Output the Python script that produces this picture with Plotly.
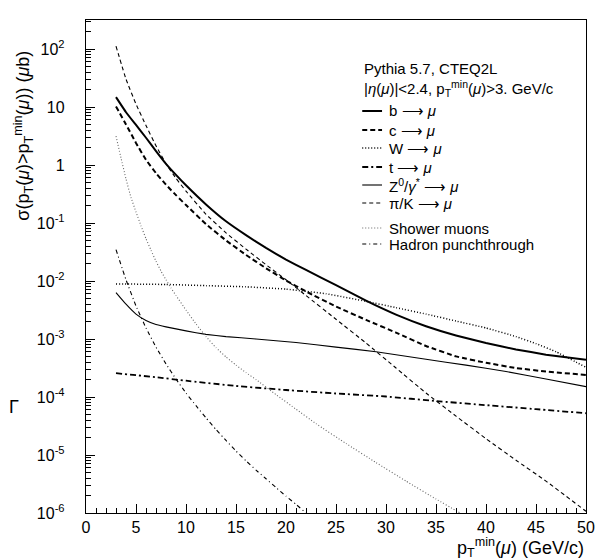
import plotly.graph_objects as go

# ---------------- data ----------------
b_x = [3, 4, 5, 6, 7, 8, 9, 10, 12, 14, 16, 18, 20, 22, 25, 28, 31, 34, 37, 40, 43, 46, 50]
b_y = [14.8, 8.13, 4.90, 2.95, 1.74, 1.05, 0.676, 0.447, 0.209, 0.107, 0.0617, 0.0372, 0.0234,
       0.0155, 8.51e-3, 4.57e-3, 2.63e-3, 1.66e-3, 1.15e-3, 8.51e-4, 6.61e-4, 5.37e-4, 4.37e-4]

c_x = [3, 4, 5, 6, 7, 8, 9, 10, 12, 14, 16, 18, 20, 22, 25, 28, 31, 34, 37, 40, 43, 46, 50]
c_y = [10.2, 5.01, 2.40, 1.23, 0.724, 0.457, 0.302, 0.204, 0.0955, 0.0501, 0.0282, 0.0166, 0.0102,
       6.61e-3, 3.63e-3, 2.14e-3, 1.29e-3, 7.59e-4, 5.01e-4, 3.89e-4, 3.16e-4, 2.75e-4, 2.40e-4]

w_x = [3, 8, 12, 16, 20, 24, 28, 31, 34, 37, 40, 43, 45, 47, 50]
w_y = [8.91e-3, 8.71e-3, 8.32e-3, 7.94e-3, 7.24e-3, 6.03e-3, 4.47e-3, 3.47e-3, 2.69e-3, 2.04e-3,
       1.55e-3, 1.10e-3, 8.32e-4, 6.03e-4, 3.24e-4]

t_x = [3, 7, 10, 15, 20, 25, 30, 35, 40, 45, 50]
t_y = [2.57e-4, 2.19e-4, 1.91e-4, 1.55e-4, 1.32e-4, 1.15e-4, 1.02e-4, 8.51e-5, 7.24e-5, 6.17e-5, 5.25e-5]

z_x = [3, 4, 5, 6, 7, 8, 10, 12, 14, 17, 21, 25, 29, 34, 38, 42, 46, 50]
z_y = [6.31e-3, 3.98e-3, 2.69e-3, 2.09e-3, 1.78e-3, 1.62e-3, 1.38e-3, 1.20e-3, 1.10e-3, 1.00e-3,
       8.71e-4, 7.24e-4, 6.03e-4, 4.47e-4, 3.55e-4, 2.75e-4, 2.04e-4, 1.51e-4]

pik_x = [3, 4, 5, 6, 7, 8, 9, 10, 12, 14, 16, 18, 20, 22, 25, 28, 31, 34, 37, 40, 43, 46, 50]
pik_y = [112, 30.2, 11.2, 4.79, 2.14, 1.05, 0.589, 0.355, 0.141, 0.0676, 0.0355, 0.0191, 0.0105,
         5.62e-3, 2.19e-3, 8.51e-4, 3.16e-4, 1.17e-4, 4.68e-5, 1.91e-5, 8.13e-6, 3.55e-6, 1.07e-6]

sh_x = [3, 3.5, 4, 4.5, 5, 5.5, 6, 6.5, 7, 7.5, 8, 8.5, 9, 10, 11, 12, 13, 14, 15, 16, 17, 19,
        21, 23, 26, 29, 32, 35, 37, 38]
sh_y = [3.16, 1.32, 0.575, 0.275, 0.155, 0.0891, 0.0537, 0.0339, 0.0219, 0.0148, 0.0105, 7.59e-3,
        5.62e-3, 3.16e-3, 1.82e-3, 1.10e-3, 7.08e-4, 4.90e-4, 3.55e-4, 2.63e-4, 2.00e-4, 1.10e-4,
        6.17e-5, 3.47e-5, 1.58e-5, 7.41e-6, 3.55e-6, 1.74e-6, 1.10e-6, 8.71e-7]

hp_x = [3, 4, 5, 6, 7, 8, 9, 10, 11, 12, 13, 14, 15, 16, 17, 18, 19, 20, 21, 22, 23]
hp_y = [3.47e-2, 1.05e-2, 3.72e-3, 1.55e-3, 7.24e-4, 3.72e-4, 2.04e-4, 1.17e-4, 7.08e-5, 4.37e-5,
        2.75e-5, 1.78e-5, 1.17e-5, 7.94e-6, 5.50e-6, 3.89e-6, 2.75e-6, 1.95e-6, 1.41e-6, 1.00e-6,
        7.24e-7]

x_ticks = [0, 5, 10, 15, 20, 25, 30, 35, 40, 45, 50]
y_ticks = [1e-6, 1e-5, 1e-4, 1e-3, 1e-2, 1e-1, 1, 10, 100]
y_tick_text = ["10<sup>-6</sup>", "10<sup>-5</sup>", "10<sup>-4</sup>", "10<sup>-3</sup>",
               "10<sup>-2</sup>", "10<sup>-1</sup>", "1", "10", "10<sup>2</sup>"]

legend_labels = ["b ⟶ <i>μ</i>", "c ⟶ <i>μ</i>", "W ⟶ <i>μ</i>", "t ⟶ <i>μ</i>",
                 "Z<sup>0</sup>/<i>γ</i><sup>*</sup> ⟶ <i>μ</i>", "π/K ⟶ <i>μ</i>",
                 "Shower muons", "Hadron punchthrough"]

# ---------------- styles ----------------
FONT = "Liberation Sans"
W, H = 607, 559
L, R, T, B = 86, 16, 20, 46
PW, PH = W - L - R, H - T - B

styles = [
    dict(color="black", width=2.0, dash="solid"),
    dict(color="black", width=2.0, dash="5px,3px"),
    dict(color="black", width=1.5, dash="1px,2px"),
    dict(color="black", width=1.8, dash="6px,3px,2px,3px"),
    dict(color="black", width=1.1, dash="solid"),
    dict(color="black", width=1.1, dash="4px,3px"),
    dict(color="#666666", width=1.1, dash="1px,2px"),
    dict(color="black", width=1.1, dash="4px,3px,1px,3px"),
]
series = [(b_x, b_y), (c_x, c_y), (w_x, w_y), (t_x, t_y), (z_x, z_y),
          (pik_x, pik_y), (sh_x, sh_y), (hp_x, hp_y)]

fig = go.Figure()
for (xs, ys), st, lab in zip(series, styles, legend_labels):
    fig.add_trace(go.Scatter(x=xs, y=ys, mode="lines", name=lab, showlegend=False,
                             hoverinfo="skip",
                             line=dict(color=st["color"], width=st["width"], dash=st["dash"],
                                       shape="spline", smoothing=0.3)))


def px(xp):
    return (xp - L) / PW


def py(yp):
    return (H - B - yp) / PH


shapes = []
annotations = []

# legend header
annotations.append(dict(x=px(365), y=py(68), xref="paper", yref="paper", xanchor="left",
                        yanchor="middle", showarrow=False, text="Pythia 5.7, CTEQ2L",
                        font=dict(family=FONT, size=15, color="black")))
annotations.append(dict(x=px(365), y=py(88), xref="paper", yref="paper", xanchor="left",
                        yanchor="middle", showarrow=False,
                        text="|<i>η</i>(<i>μ</i>)|<2.4, p<sub>T</sub><sup>min</sup>(<i>μ</i>)>3. GeV/c",
                        font=dict(family=FONT, size=15, color="black")))
row_y = [111, 130, 148, 167, 185, 203, 228, 244]
for lab, st, yy in zip(legend_labels, styles, row_y):
    shapes.append(dict(type="line", xref="paper", yref="paper", x0=px(365), x1=px(385),
                       y0=py(yy), y1=py(yy),
                       line=dict(color=st["color"], width=st["width"], dash=st["dash"])))
    annotations.append(dict(x=px(390), y=py(yy), xref="paper", yref="paper", xanchor="left",
                            yanchor="middle", showarrow=False, text=lab,
                            font=dict(family=FONT, size=15, color="black")))

# axis titles
annotations.append(dict(x=px(22), y=py(136), xref="paper", yref="paper", xanchor="center",
                        yanchor="middle", showarrow=False, textangle=-90,
                        text="σ(p<sub>T</sub>(<i>μ</i>)>p<sub>T</sub><sup>min</sup>(<i>μ</i>)) (<i>μ</i>b)",
                        font=dict(family=FONT, size=18, color="black")))
annotations.append(dict(x=px(591), y=py(547), xref="paper", yref="paper", xanchor="right",
                        yanchor="middle", showarrow=False,
                        text="p<sub>T</sub><sup>min</sup>(<i>μ</i>) (GeV/c)",
                        font=dict(family=FONT, size=18, color="black")))
annotations.append(dict(x=px(13), y=py(407), xref="paper", yref="paper", xanchor="center",
                        yanchor="middle", showarrow=False, text="Γ",
                        font=dict(family=FONT, size=18, color="black")))

fig.update_layout(
    width=W, height=H,
    margin=dict(l=L, r=R, t=T, b=B, pad=0),
    paper_bgcolor="white", plot_bgcolor="white",
    font=dict(family=FONT, size=15, color="black"),
    shapes=shapes, annotations=annotations,
    showlegend=False, hovermode=False,
)
fig.update_xaxes(range=[0, 50], tickvals=x_ticks, ticks="inside", ticklen=9, tickwidth=1,
                 tickcolor="black", showline=True, linecolor="black", linewidth=1.2,
                 mirror=True, showgrid=False, zeroline=False, ticklabelstandoff=0,
                 tickfont=dict(family=FONT, size=16),
                 minor=dict(dtick=1, ticks="inside", ticklen=5, tickcolor="black", showgrid=False))
fig.update_yaxes(type="log", range=[-6, 2.5], tickvals=y_ticks, ticktext=y_tick_text,
                 ticks="inside", ticklen=9, tickwidth=1, tickcolor="black", showline=True,
                 linecolor="black", linewidth=1.2, mirror=True, showgrid=False, zeroline=False,
                 ticklabelstandoff=17, tickfont=dict(family=FONT, size=16),
                 minor=dict(dtick="D1", ticks="inside", ticklen=5, tickcolor="black",
                            showgrid=False))

fig.write_html("out.html", config={"displayModeBar": False, "staticPlot": True},
               post_script="document.body.style.margin='0px';")
